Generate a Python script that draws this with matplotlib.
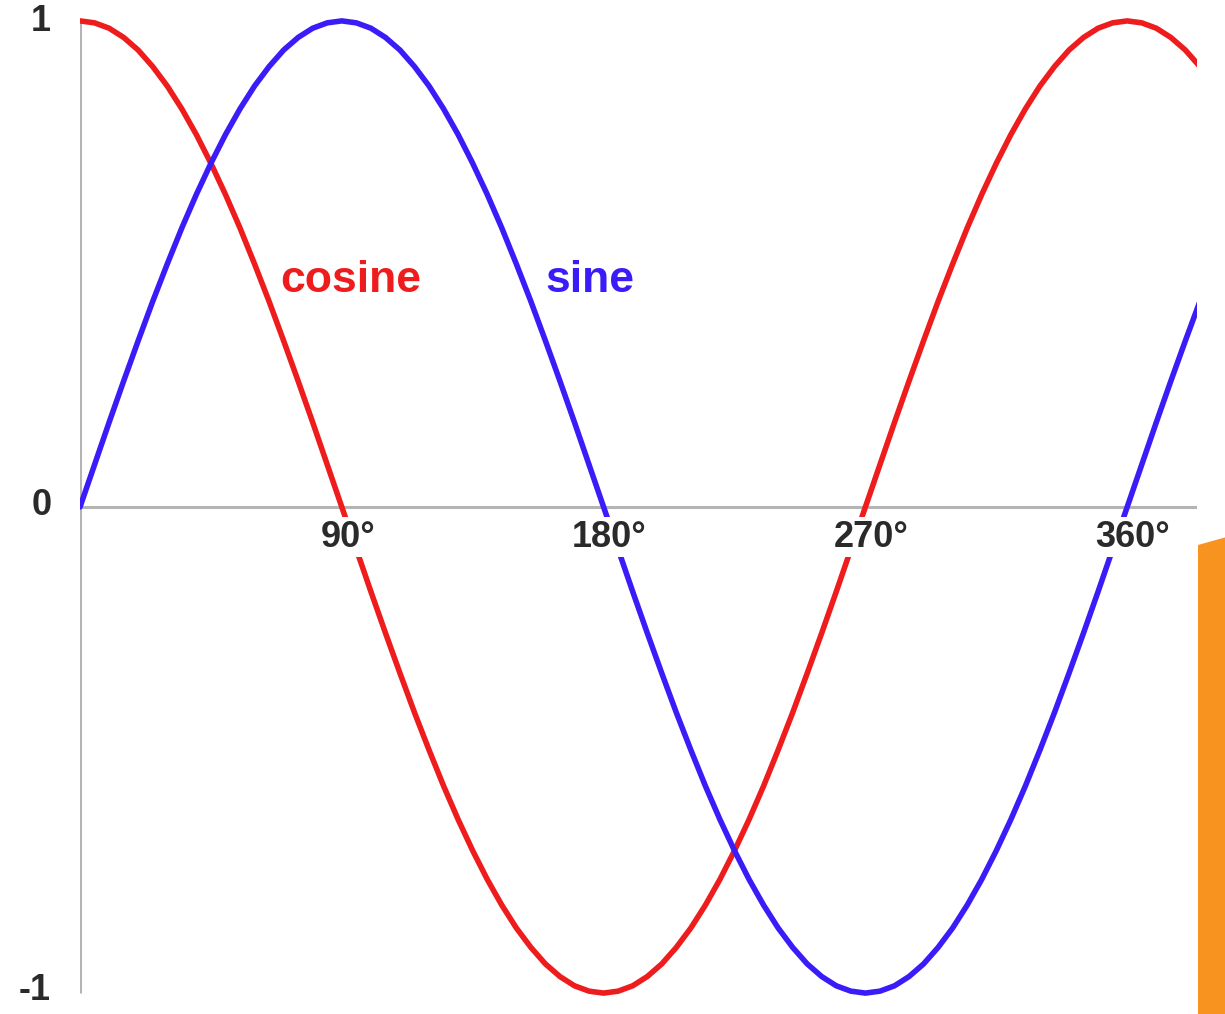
import matplotlib
matplotlib.use("Agg")
import matplotlib.pyplot as plt
from matplotlib.patches import Polygon

# ---- data (degrees, values) ----
angles = list(range(0, 390, 5))
sine = [0.000, 0.087, 0.174, 0.259, 0.342, 0.423, 0.500, 0.574, 0.643, 0.707,
        0.766, 0.819, 0.866, 0.906, 0.940, 0.966, 0.985, 0.996, 1.000, 0.996,
        0.985, 0.966, 0.940, 0.906, 0.866, 0.819, 0.766, 0.707, 0.643, 0.574,
        0.500, 0.423, 0.342, 0.259, 0.174, 0.087, 0.000, -0.087, -0.174, -0.259,
        -0.342, -0.423, -0.500, -0.574, -0.643, -0.707, -0.766, -0.819, -0.866, -0.906,
        -0.940, -0.966, -0.985, -0.996, -1.000, -0.996, -0.985, -0.966, -0.940, -0.906,
        -0.866, -0.819, -0.766, -0.707, -0.643, -0.574, -0.500, -0.423, -0.342, -0.259,
        -0.174, -0.087, 0.000, 0.087, 0.174, 0.259, 0.342, 0.423]
cosine = [1.000, 0.996, 0.985, 0.966, 0.940, 0.906, 0.866, 0.819, 0.766, 0.707,
          0.643, 0.574, 0.500, 0.423, 0.342, 0.259, 0.174, 0.087, 0.000, -0.087,
          -0.174, -0.259, -0.342, -0.423, -0.500, -0.574, -0.643, -0.707, -0.766, -0.819,
          -0.866, -0.906, -0.940, -0.966, -0.985, -0.996, -1.000, -0.996, -0.985, -0.966,
          -0.940, -0.906, -0.866, -0.819, -0.766, -0.707, -0.643, -0.574, -0.500, -0.423,
          -0.342, -0.259, -0.174, -0.087, 0.000, 0.087, 0.174, 0.259, 0.342, 0.423,
          0.500, 0.574, 0.643, 0.707, 0.766, 0.819, 0.866, 0.906, 0.940, 0.966,
          0.985, 0.996, 1.000, 0.996, 0.985, 0.966, 0.940, 0.906]
x_ticks = [90, 180, 270, 360]
x_tick_labels = ["90°", "180°", "270°", "360°"]
y_ticks = [1, 0, -1]
y_tick_labels = ["1", "0", "-1"]
series_labels = ["cosine", "sine"]

RED = "#ee1c1c"
BLUE = "#3a1cf8"
GRAY = "#b4b4b4"
FONT = ["Liberation Sans", "DejaVu Sans"]

W, H = 1225, 1014
fig = plt.figure(figsize=(W / 100, H / 100), dpi=100)
fig.patch.set_facecolor("white")

x0, x1 = 80, 1197
ax = fig.add_axes([x0 / W, 0, (x1 - x0) / W, 1])
ax.set_xlim(0, 384)
ax.set_ylim(-1.043, 1.043)
ax.axis("off")

# axes lines
ax.plot([0, 384], [0, 0], color=GRAY, lw=2.2, zorder=1, solid_capstyle="butt")
ax.plot([0, 0], [-1, 1], color=GRAY, lw=2.2, zorder=1, solid_capstyle="butt")

# curves
ax.plot(angles, cosine, color=RED, lw=4.0, zorder=3,
        solid_capstyle="round", solid_joinstyle="round")
ax.plot(angles, sine, color=BLUE, lw=4.0, zorder=3,
        solid_capstyle="round", solid_joinstyle="round")

# x tick labels (white boxes cut the curves)
for t, lab in zip(x_ticks, x_tick_labels):
    ax.text(t + 2, -0.062, lab, ha="center", va="center", fontsize=26,
            fontweight="bold", color="#2a2a2a", family=FONT, zorder=5,
            bbox=dict(facecolor="white", edgecolor="none", pad=1.5))

# y tick labels
y_pos = {1: 0.998, 0: 0.004, -1: -0.994}
x_pos = {1: -13.4, 0: -13.1, -1: -15.5}
for t, lab in zip(y_ticks, y_tick_labels):
    ax.text(x_pos[t], y_pos[t], lab, ha="center", va="center", fontsize=26,
            fontweight="bold", color="#2a2a2a", family=FONT, clip_on=False)

# series labels
ax.text(68.8, 0.442, series_labels[0], ha="left", va="baseline", fontsize=32,
        fontweight="bold", color=RED, family=FONT, zorder=5)
ax.text(159.9, 0.442, series_labels[1], ha="left", va="baseline", fontsize=32,
        fontweight="bold", color=BLUE, family=FONT, zorder=5)

# orange decorative shape at the right edge
poly = Polygon([(1198 / W, 1 - 545 / H), (1 + 0.01, 1 - 534 / H),
                (1 + 0.01, -0.01), (1198 / W, -0.01)],
               closed=True, transform=fig.transFigure, facecolor="#f7931e",
               edgecolor="none", zorder=10)
fig.patches.append(poly)

fig.savefig("out.png", dpi=100, facecolor="white")
